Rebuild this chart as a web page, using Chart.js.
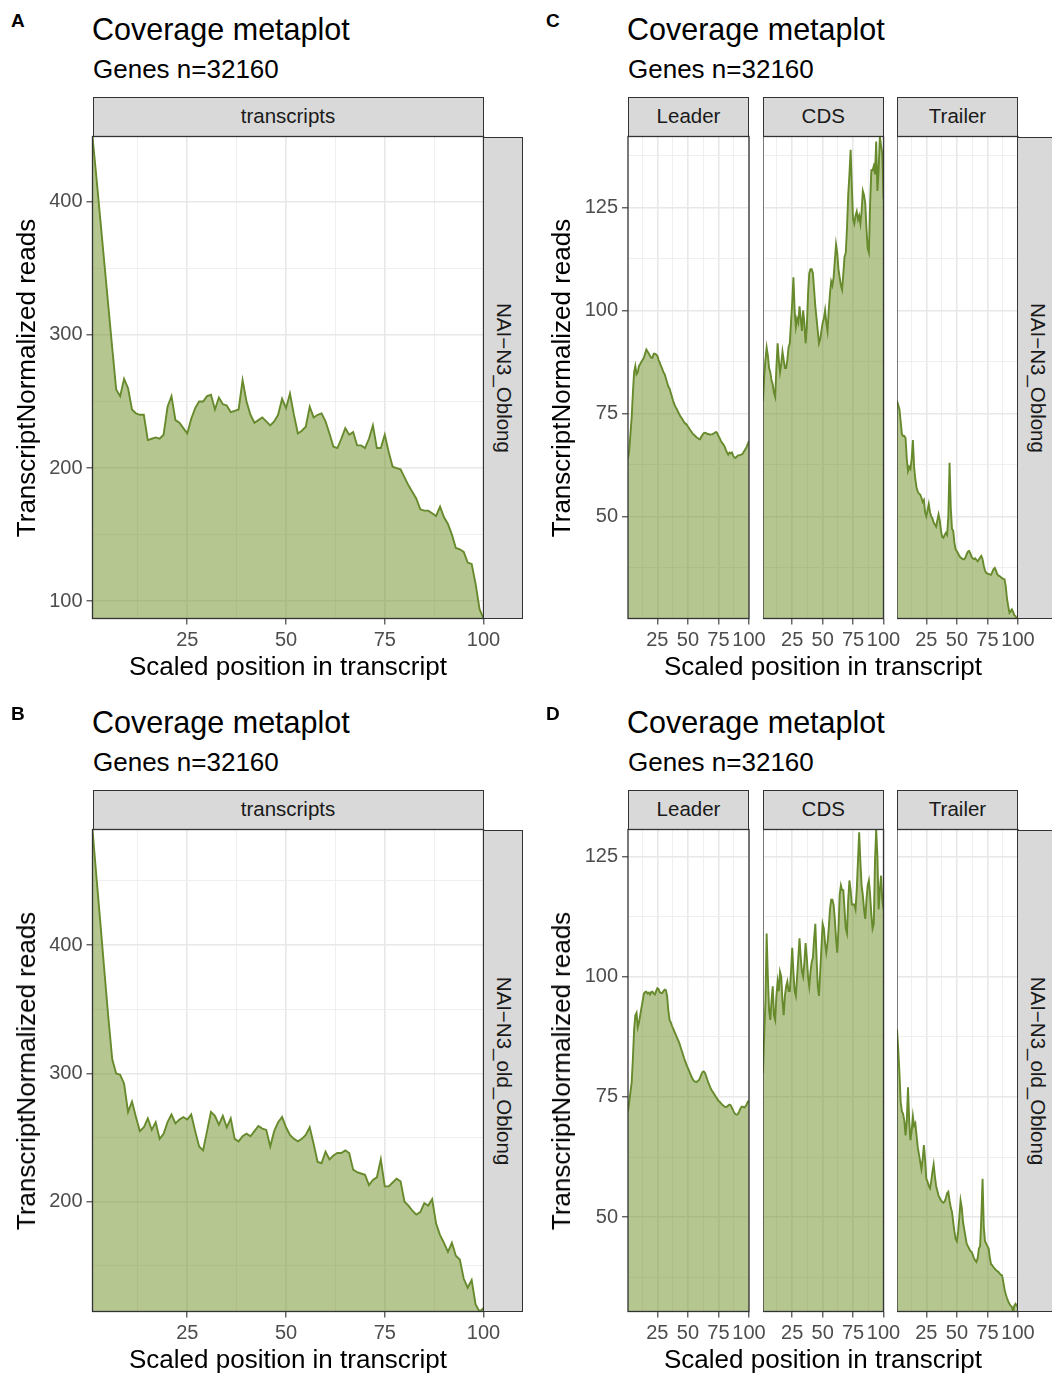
<!DOCTYPE html>
<html><head><meta charset="utf-8">
<script src="https://cdn.jsdelivr.net/npm/chart.js@4.4.1/dist/chart.umd.min.js"></script>
<style>
html,body{margin:0;padding:0;background:#fff;}
body{width:1052px;height:1376px;overflow:hidden;position:relative;font-family:"Liberation Sans",Arial,Helvetica,sans-serif;}
.t{position:absolute;white-space:nowrap;line-height:1;}
.strip{position:absolute;box-sizing:border-box;background:#D9D9D9;border:1.2px solid #333;}
canvas{position:absolute;}
</style></head><body>
<script>
// ---------- DATA ----------
const positions = [1,2,3,4,5,6,7,8,9,10,11,12,13,14,15,16,17,18,19,20,21,22,23,24,25,26,27,28,29,30,31,32,33,34,35,36,37,38,39,40,41,42,43,44,45,46,47,48,49,50,51,52,53,54,55,56,57,58,59,60,61,62,63,64,65,66,67,68,69,70,71,72,73,74,75,76,77,78,79,80,81,82,83,84,85,86,87,88,89,90,91,92,93,94,95,96,97,98,99,100];

const xMajorTicks = [25,50,75,100];

// Panel A: NAI-N3_Oblong, transcripts
const transcriptsA = [449,418,386,354,322,290,259,254,267,260,
 244,241,240,240,221,222,223,222,225,246,
 254,236,234,230,226,237,245,250,250,254,
 255,244,253,248,247,242,243,244,266,250,
 240,234,236,238,235,232,235,240,252,245,
 256,240,226,228,231,246,238,240,241,235,
 226,216,215,222,230,225,227,217,217,215,
 222,232,215,215,225,212,201,200,199,193,
 187,182,177,169,168,168,166,164,171,163,
 158,150,140,139,137,129,128,113,94,87];
const yMajorA = [100,200,300,400];

// Panel B: NAI-N3_old_Oblong, transcripts
const transcriptsB = [490,453,417,380,344,311,300,299,292,270,
 278,266,255,258,265,256,262,249,253,262,
 268,261,264,266,264,268,255,243,240,255,
 270,267,260,267,258,265,249,247,251,253,
 251,255,259,257,256,243,255,262,266,258,
 252,249,247,249,252,258,245,231,230,239,
 233,236,238,238,240,238,225,223,222,221,
 213,217,219,233,212,212,215,218,216,200,
 197,193,190,192,199,197,202,183,174,168,
 161,168,158,155,140,133,139,120,114.5,117];
const yMajorB = [200,300,400];

// Panel C: NAI-N3_Oblong, Leader / CDS / Trailer
const leaderC = [64,66,70,74,80,85,86.5,84.5,85,86.5,
 87,87.5,88,88.5,89.5,90.5,90,89.5,89,88.5,
 88.5,89.5,89.5,89.3,89,88,87.3,86.5,85.8,85,
 84.5,83.5,82.5,81.5,81,80,79,78,77.2,76.5,
 76,75.3,74.8,74.2,73.8,73.3,72.8,72.5,72.3,71.8,
 71.4,70.9,70.5,70,69.8,69.5,69.2,69,68.8,68.7,
 69.3,69.8,70.2,70.3,70.2,70,70,69.8,69.9,69.9,
 70.1,70.3,70.5,70.2,69.5,69,68.3,67.8,67.5,67,
 66.2,65.5,65,65.5,65.3,65.5,64.8,64.3,64.2,64.5,
 64.8,64.8,64.9,65,65.3,65.8,66.3,66.8,67.5,68.3];
const cdsC = [78,84,88,91,89,86,85,83,82,80,
 79,86,92,88,85,87,90,88,86,86,
 88,91,92,97,102,108,100,96,98,97,
 101,98,95,100,97,92,96,104,109,110,
 110,109,105,101,98,95,92,93,95,97,
 98,100,97,95,100,104,107,106,108,112,
 116,114,110,108,106,105,109,113,114,120,
 128,133,139,130,122,121,123,124,122,123,
 121,124,129,128,126,120,115,114,126,134,
 134,135,133,141,129,134,142.2,140,138,127];
const trailerC = [78,77,76,73,70,69.5,69.5,69,64,61,
 62,61.5,64,68.5,62,59,57,56,55.5,55.3,
 54.5,53.5,54,51,50,51.5,53,51,50,49.5,
 48.5,48,47.5,49,50.5,49,46.5,45,44.8,45.5,
 46,45.5,50,63,52,47,46.5,43.5,42,41.5,
 41,40.4,40,39.8,39.6,39.6,40,40.8,41.4,41.6,
 41,40.2,39.8,39.6,39.8,39.4,39.1,39.5,40,40.4,
 39.6,38,36.8,36.3,36.1,36,35.9,35.8,36.5,37.2,
 37.5,36.8,36,35.6,35.5,35.2,35,34.8,34.7,33,
 30,28.2,26.6,27,27.4,26.8,26,25.8,25.2,25.4];
const yMajorC = [50,75,100,125];

// Panel D: NAI-N3_old_Oblong, Leader / CDS / Trailer
const leaderD = [72,74,76,78,83,89,92,92.5,89.5,90.5,
 92,93.5,95,96.5,96.8,96.9,96.5,96.7,96.3,96.8,
 96.9,96.5,96.3,97,97.6,97.4,96.8,96.6,96.6,97,
 97.3,97.2,96,93,91,90.5,89.8,89.2,88.6,88,
 87.4,86.8,86.2,85.4,84.6,83.8,83,82.3,81.6,81,
 80.4,79.8,79.2,78.7,78.3,78.2,78.1,78.3,78.5,79,
 79.7,80.2,80.3,80,79.3,78.5,77.8,77.2,76.6,76.2,
 75.8,75.4,75,74.6,74.2,74,73.7,73.4,73.2,73,
 72.9,73,73.2,73.4,73.3,72.8,72.2,71.7,71.4,71.3,
 71.5,72,72.6,73,73,72.8,73,73.4,74,74.2];
const cdsD = [80,88,95,109,100,93,91,95,98,92,
 91,96,99,97,101,100,95,92,96,98,
 99,97,97,101,106,101,97,96,100,104,
 108,104,101,100,103,107,104,100,98,101,
 103,104,108,111,104,98,96,101,106,111,
 110,107,105,107,110,114,116,116,115,112,
 108,105,110,117,119,118,118,114,110,109,
 116,120,118,115,115,115,114,118,124,130,
 124,119,117,114,112,116,119,120,117,113,
 110,111,124,130.6,125,114,118,121,116,114];
const trailerD = [89,85,80,74,72,71.5,70,67,70,77,
 70,66,68,71,69,69.5,67,64.5,63,61.5,
 60,62,65,62,58,57.4,56.5,56,57.5,59.5,
 61,58.5,56.5,55.5,54.5,54,53.5,53.2,53,53.3,
 54,55,55.3,53.5,52,51.1,49,47,45.5,45,
 47,50,53.5,52,49,47.5,46,44.5,44,43.5,
 43,42.8,42.2,41.5,41,40.7,41.5,43.5,44,50,
 58,48,45,44.5,44,43.5,41.5,40.2,40,39.6,
 39.3,39,38.8,38.6,38.3,38,37.9,36.5,35,34,
 33.2,32.5,32,31.6,31.4,30.4,31.6,32,31.6,31.3];
const yMajorD = [50,75,100,125];

// ---------- STYLE / LAYOUT ----------
const FONT = '"Liberation Sans", Arial, Helvetica, sans-serif';
Chart.defaults.font.family = FONT;
const FILL = 'rgba(107,142,35,0.5)';
const LINE = '#678a2c';
const GRID = '#E8E8E8';
const GRID_MINOR = '#EDEDED';

function text(txt, css){
  const d = document.createElement('div');
  d.className = 't'; d.textContent = txt;
  Object.assign(d.style, css);
  document.body.appendChild(d);
  return d;
}
function centerText(txt, cx, cy, size, color, rot, weight){
  return text(txt, {left: cx+'px', top: cy+'px', fontSize: size+'px', color: color,
    fontWeight: weight || 'normal',
    transform: 'translate(-50%,-50%) rotate(' + (rot||0) + 'deg)'});
}
function strip(x, y, w, h){
  const d = document.createElement('div');
  d.className = 'strip';
  Object.assign(d.style, {left: x+'px', top: y+'px', width: w+'px', height: h+'px'});
  document.body.appendChild(d);
}

const borderPlugin = {
  id: 'pborder',
  afterDatasetsDraw(chart){
    const {ctx, chartArea: a} = chart;
    ctx.save();
    ctx.strokeStyle = '#333333';
    ctx.lineWidth = 1.3;
    ctx.strokeRect(a.left, a.top, a.right - a.left, a.bottom - a.top);
    ctx.restore();
  }
};

function minorFrom(major, lo, hi){
  const step = major[1] - major[0];
  const out = [];
  for (let v = major[0] - step/2; v <= hi; v += step) if (v >= lo) out.push(v);
  return out;
}

function facet(f){
  const {L, R, T, B, values, yMin, yMax, yMajor, showY} = f;
  const cLeft = Math.floor(L - (showY ? 60 : 0));
  const yw = L - cLeft;
  const cTop = Math.floor(T - 18);
  const padTop = T - cTop;
  const W = Math.ceil(yw + (R - L) + 24);
  const padRight = W - yw - (R - L);
  const H = Math.ceil(padTop + (B - T) + 40);
  const xh = H - padTop - (B - T);

  const cv = document.createElement('canvas');
  cv.width = W; cv.height = H;
  cv.style.left = cLeft + 'px'; cv.style.top = cTop + 'px';
  cv.style.width = W + 'px'; cv.style.height = H + 'px';
  document.body.appendChild(cv);

  const xMinor = minorFrom(xMajorTicks, 1, 100);
  const xAll = xMinor.concat(xMajorTicks).filter(v => v >= 1 && v <= 100).sort((a,b)=>a-b);
  const yMinor = minorFrom(yMajor, yMin, yMax);
  const yAll = yMinor.concat(yMajor).filter(v => v >= yMin && v <= yMax).sort((a,b)=>a-b);
  const isMajX = v => xMajorTicks.includes(v);
  const isMajY = v => yMajor.includes(v);

  new Chart(cv, {
    type: 'line',
    data: { datasets: [{
      data: positions.map((x, i) => ({x: x, y: values[i]})),
      borderColor: LINE, backgroundColor: FILL, borderWidth: 1.9,
      pointRadius: 0, fill: 'start', tension: 0
    }]},
    options: {
      responsive: false, animation: false, devicePixelRatio: 1, events: [],
      layout: {padding: {left: 0, top: padTop, right: padRight, bottom: 0}},
      plugins: {legend: {display: false}, tooltip: {enabled: false}},
      scales: {
        x: {
          type: 'linear', min: 1, max: 100,
          afterBuildTicks: s => { s.ticks = xAll.map(v => ({value: v})); },
          afterFit: s => { s.height = xh; },
          ticks: {autoSkip: false, maxRotation: 0, minRotation: 0, padding: 4,
            color: '#4D4D4D', font: {size: 20},
            callback: v => isMajX(v) ? String(v) : ''},
          grid: {
            color: c => (c.tick && isMajX(c.tick.value)) ? GRID : GRID_MINOR,
            lineWidth: c => (c.tick && isMajX(c.tick.value)) ? 1.6 : 0.9,
            tickColor: c => (c.tick && isMajX(c.tick.value)) ? '#333333' : 'rgba(0,0,0,0)',
            tickLength: 6, tickWidth: 1.1
          },
          border: {display: false}
        },
        y: {
          type: 'linear', min: yMin, max: yMax,
          afterBuildTicks: s => { s.ticks = yAll.map(v => ({value: v})); },
          afterFit: s => { s.width = yw; },
          ticks: {display: showY, autoSkip: false, padding: 4, color: '#4D4D4D', font: {size: 20},
            callback: v => isMajY(v) ? String(v) : ''},
          grid: {
            color: c => (c.tick && isMajY(c.tick.value)) ? GRID : GRID_MINOR,
            lineWidth: c => (c.tick && isMajY(c.tick.value)) ? 1.6 : 0.9,
            tickColor: c => (showY && c.tick && isMajY(c.tick.value)) ? '#333333' : 'rgba(0,0,0,0)',
            tickLength: 6, tickWidth: 1.1
          },
          border: {display: false}
        }
      }
    },
    plugins: [borderPlugin]
  });
}

function panel(p){
  const dy = p.dy, ox = p.ox;
  const T = 136.5 + dy, B = 618.5 + dy;
  const stripTop = 97 + dy;
  text(p.letter, {left: (11 + ox) + 'px', top: (10.5 + dy) + 'px', fontSize: '19px', fontWeight: 'bold', color: '#000'});
  text('Coverage metaplot', {left: (92 + ox) + 'px', top: (13.7 + dy) + 'px', fontSize: '30.5px', color: '#000'});
  text('Genes n=32160', {left: (93 + ox) + 'px', top: (56.4 + dy) + 'px', fontSize: '26px', color: '#000'});

  let all = [];
  p.facets.forEach(f => { all = all.concat(f.values); });
  const yMin = Math.min.apply(null, all), yMax = Math.max.apply(null, all);

  p.facets.forEach((f, i) => {
    strip(f.L, stripTop, f.R - f.L, T - stripTop + 0.6);
    centerText(f.name, (f.L + f.R) / 2, (stripTop + T) / 2 - 0.5, 20.5, '#1A1A1A', 0);
    facet({L: f.L, R: f.R, T: T, B: B, values: f.values, yMin: yMin, yMax: yMax, yMajor: p.yMajor, showY: i === 0});
  });
  const lastR = p.facets[p.facets.length - 1].R;
  strip(lastR - 0.6, T, 40.6, B - T);
  centerText(p.row, lastR + 20, (T + B) / 2, 20.5, '#1A1A1A', 90);

  const firstL = p.facets[0].L;
  const cx = (firstL + lastR) / 2;
  centerText('Scaled position in transcript', cx, 666 + dy, 26, '#000', 0);
  centerText('TranscriptNormalized reads', firstL - 67, (T + B) / 2, 26, '#000', -90);
}

panel({letter: 'A', dy: 0, ox: 0, row: 'NAI\u2212N3_Oblong', yMajor: yMajorA,
  facets: [{name: 'transcripts', L: 92.5, R: 483.5, values: transcriptsA}]});
panel({letter: 'B', dy: 693, ox: 0, row: 'NAI\u2212N3_old_Oblong', yMajor: yMajorB,
  facets: [{name: 'transcripts', L: 92.5, R: 483.5, values: transcriptsB}]});
panel({letter: 'C', dy: 0, ox: 535, row: 'NAI\u2212N3_Oblong', yMajor: yMajorC,
  facets: [{name: 'Leader', L: 628, R: 749, values: leaderC},
           {name: 'CDS', L: 763, R: 883.5, values: cdsC},
           {name: 'Trailer', L: 897, R: 1018, values: trailerC}]});
panel({letter: 'D', dy: 693, ox: 535, row: 'NAI\u2212N3_old_Oblong', yMajor: yMajorD,
  facets: [{name: 'Leader', L: 628, R: 749, values: leaderD},
           {name: 'CDS', L: 763, R: 883.5, values: cdsD},
           {name: 'Trailer', L: 897, R: 1018, values: trailerD}]});
</script>
</body></html>
